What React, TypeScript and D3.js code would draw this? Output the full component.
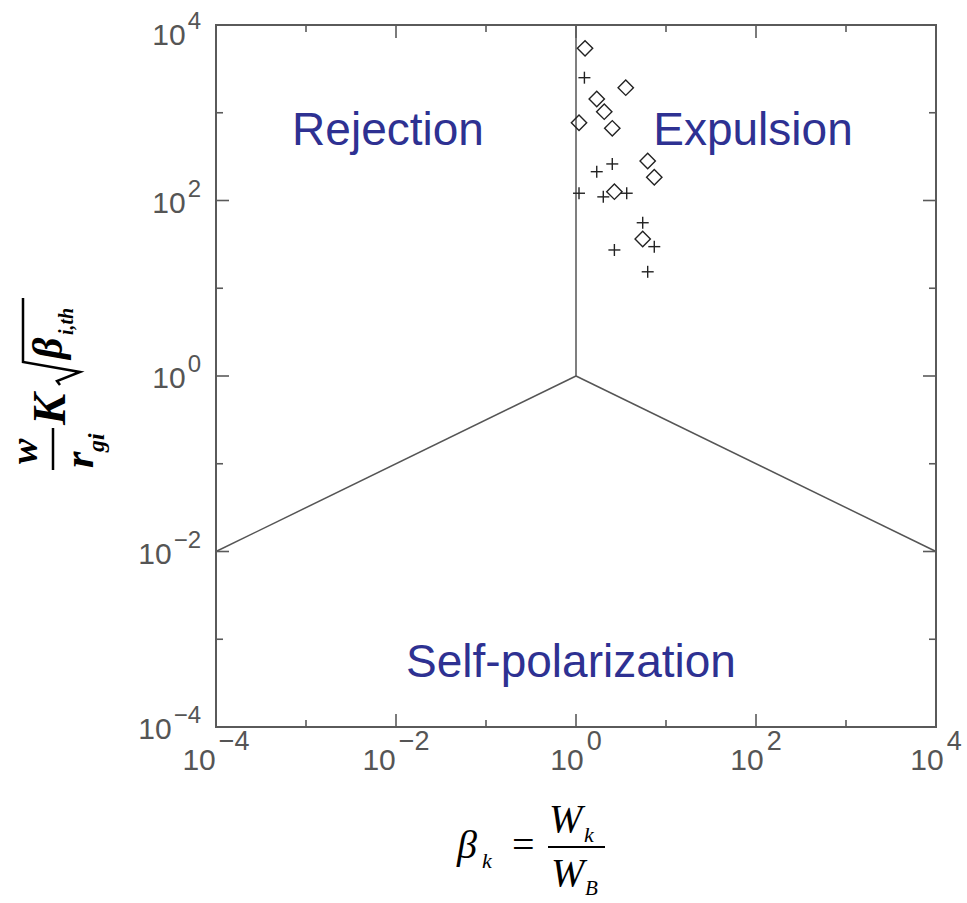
import React from 'react';
import * as d3 from 'd3';

// data (beta_k, normalised width)
const diamondX = [1.26, 3.57, 1.7, 2.06, 1.08, 2.53, 6.26, 7.41, 2.67, 5.51];
const diamondY = [5420, 1930, 1435, 1028, 770, 665, 282, 184, 126, 36.4];
const plusX = [1.24, 2.53, 1.7, 1.08, 2.01, 3.66, 5.51, 7.41, 2.67, 6.26];
const plusY = [2510, 261, 213, 121, 110, 121, 55.8, 29.8, 27.3, 15.4];

// regime boundaries
const boundaries = [
  [[1, 1e4], [1, 1]],
  [[1e-4, 1e-2], [1, 1]],
  [[1, 1], [1e4, 1e-2]],
];

const tickExps = [-4, -3, -2, -1, 0, 1, 2, 3, 4];
const labelExps = [-4, -2, 0, 2, 4];

const W = 967;
const H = 903;
const margin = { top: 25, right: 31, bottom: 176, left: 216 };

const axisColor = '#5a5a5a';
const labelColor = '#555';
const regionColor = '#2e3192';

const App = () => {
  const x = d3.scaleLog().domain([1e-4, 1e4]).range([margin.left, W - margin.right]);
  const y = d3.scaleLog().domain([1e-4, 1e4]).range([H - margin.bottom, margin.top]);
  const [x0, x1] = x.range();
  const [y0, y1] = y.range(); // y0 bottom, y1 top

  const line = d3.line<number[]>().x(d => x(d[0])).y(d => y(d[1]));
  const diamond = d3.symbol().type(d3.symbolSquare).size(118)();

  const tickLen = (e: number) => (labelExps.includes(e) ? 13 : 7);
  const sup = (e: number) => (e < 0 ? '\u2212' + Math.abs(e) : String(e));

  return (
    <svg width={W} height={H} style={{ position: 'absolute', left: 0, top: 0, background: '#fff' }}>
      {/* boundary lines */}
      {boundaries.map((b, i) => (
        <path key={i} d={line(b) || ''} fill="none" stroke="#555" strokeWidth={1.5} />
      ))}

      {/* frame */}
      <rect x={x0} y={y1} width={x1 - x0} height={y0 - y1} fill="none" stroke={axisColor} strokeWidth={2} />

      {/* ticks on all four sides, inward */}
      {tickExps.map(e => {
        const v = Math.pow(10, e);
        const L = tickLen(e);
        return (
          <g key={e} stroke={axisColor} strokeWidth={1.6}>
            <line x1={x(v)} x2={x(v)} y1={y0} y2={y0 - L} />
            <line x1={x(v)} x2={x(v)} y1={y1} y2={y1 + L} />
            <line x1={x0} x2={x0 + L} y1={y(v)} y2={y(v)} />
            <line x1={x1} x2={x1 - L} y1={y(v)} y2={y(v)} />
          </g>
        );
      })}

      {/* x tick labels */}
      {labelExps.map(e => (
        <text key={'xl' + e} x={x(Math.pow(10, e))} y={y0 + 43} textAnchor="middle"
          fontFamily="Liberation Sans, Arial, sans-serif" fill={labelColor} fontSize={30}>
          10<tspan dx={3} dy={-20} fontSize={27}>{sup(e)}</tspan>
        </text>
      ))}

      {/* y tick labels */}
      {labelExps.map(e => (
        <text key={'yl' + e} x={201} y={Math.max(y(Math.pow(10, e)) + 12, 45)} textAnchor="end"
          fontFamily="Liberation Sans, Arial, sans-serif" fill={labelColor} fontSize={30}>
          10<tspan dx={2} dy={-16} fontSize={24}>{sup(e)}</tspan>
        </text>
      ))}

      {/* diamonds */}
      {diamondX.map((d, i) => (
        <path key={'d' + i} d={diamond || ''} transform={`translate(${x(d)},${y(diamondY[i])}) rotate(45)`}
          fill="none" stroke="#222" strokeWidth={1.4} />
      ))}

      {/* plus markers */}
      {plusX.map((d, i) => {
        const cx = x(d);
        const cy = y(plusY[i]);
        return (
          <g key={'p' + i} stroke="#222" strokeWidth={1.4}>
            <line x1={cx - 6} x2={cx + 6} y1={cy} y2={cy} />
            <line x1={cx} x2={cx} y1={cy - 6} y2={cy + 6} />
          </g>
        );
      })}

      {/* regime names */}
      <g fontFamily="Liberation Sans, Arial, sans-serif" fontSize={46} fill={regionColor} textAnchor="middle">
        <text x={388} y={145}>Rejection</text>
        <text x={753} y={145}>Expulsion</text>
        <text x={571} y={677}>Self-polarization</text>
      </g>

      {/* x axis title: beta_k = W_k / W_B */}
      <g fontFamily="Liberation Serif, Times New Roman, serif" fontStyle="italic" fill="#000">
        <text x={457} y={858} fontSize={40}>β</text>
        <text x={482} y={868} fontSize={22}>k</text>
        <text x={512} y={858} fontSize={40} fontStyle="normal">=</text>
        <line x1={548} x2={605} y1={847} y2={847} stroke="#000" strokeWidth={2} />
        <text x={549} y={832} fontSize={40}>W</text>
        <text x={584} y={842} fontSize={22}>k</text>
        <text x={551} y={886} fontSize={40}>W</text>
        <text x={585} y={895} fontSize={21}>B</text>
      </g>

      {/* y axis title: (w / r_gi) K sqrt(beta_i,th), rotated */}
      <g transform="translate(0,480) rotate(-90)" fontFamily="Liberation Serif, Times New Roman, serif"
        fontStyle="italic" fontWeight="bold" fill="#000">
        <text x={16} y={37} fontSize={38}>w</text>
        <line x1={10} x2={52} y1={53} y2={53} stroke="#000" strokeWidth={2.5} />
        <text x={12} y={93} fontSize={42}>r</text>
        <text x={28} y={104} fontSize={24}>gi</text>
        <text x={55} y={65} fontSize={47}>K</text>
        <path d="M95,60 L99,57 L108,80 L118,23 L182,23" fill="none" stroke="#000" strokeWidth={2.5} />
        <text x={121} y={62} fontSize={42}>β</text>
        <text x={145} y={73} fontSize={20}>i,th</text>
      </g>
    </svg>
  );
};

export default App;
